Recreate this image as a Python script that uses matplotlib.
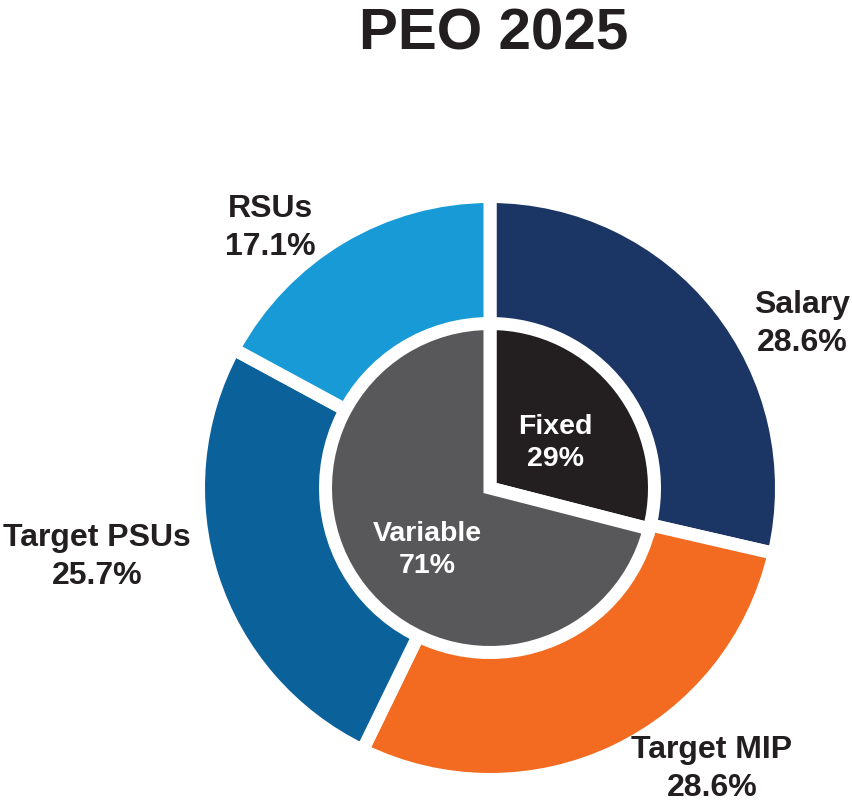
import matplotlib
matplotlib.use("Agg")
import matplotlib.pyplot as plt

plt.rcParams["font.family"] = ["Liberation Sans", "DejaVu Sans"]

TITLE = "PEO 2025"

outer_labels = ["Salary", "Target MIP", "Target PSUs", "RSUs"]
outer_values = [28.6, 28.6, 25.7, 17.1]
outer_colors = ["#1B3564", "#F26B21", "#0B6199", "#189AD6"]

inner_labels = ["Fixed", "Variable"]
inner_values = [29, 71]
inner_colors = ["#231F20", "#58585A"]

TEXT = "#231F20"

W, H = 852, 812
fig = plt.figure(figsize=(W / 100, H / 100), dpi=100)
ax = fig.add_axes([0, 0, 1, 1])

cx, cy = 490, H - 489
gap = 13  # white gap in px
lw = gap * 0.72

ax.pie(outer_values, colors=outer_colors, startangle=90, counterclock=False,
       center=(cx, cy), radius=285 + gap / 2, frame=True,
       wedgeprops=dict(width=285 - 169 + gap, edgecolor="white", linewidth=lw))
ax.pie(inner_values, colors=inner_colors, startangle=90, counterclock=False,
       center=(cx, cy), radius=158 + gap / 2, frame=True,
       wedgeprops=dict(edgecolor="white", linewidth=lw))
ax.set_xlim(0, W)
ax.set_ylim(0, H)
ax.set_aspect("equal")
ax.axis("off")

# outer labels (placed outside the ring)
outer_pos = [(802, H - 324), (712, H - 769), (97, H - 557), (270, H - 228)]
for lab, val, (x, y) in zip(outer_labels, outer_values, outer_pos):
    ax.text(x, y, f"{lab}\n{val:.1f}%", ha="center", va="center",
            fontsize=23, fontweight="bold", color=TEXT, linespacing=1.32)

inner_pos = [(555, H - 443), (427, H - 550)]
for lab, val, (x, y) in zip(inner_labels, inner_values, inner_pos):
    ax.text(x, y, f"{lab}\n{val}%", ha="center", va="center",
            fontsize=20.5, fontweight="bold", color="white", linespacing=1.3)

ax.text(494, H - 34, TITLE, ha="center", va="center",
        fontsize=42, fontweight="bold", color=TEXT)

fig.savefig("out.png", dpi=100, facecolor="white")
